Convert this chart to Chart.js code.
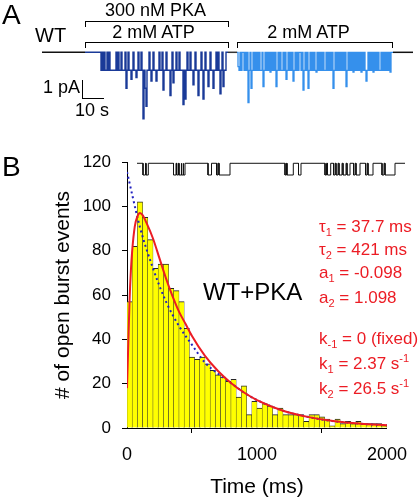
<!DOCTYPE html>
<html>
<head>
<meta charset="utf-8">
<script src="https://cdn.jsdelivr.net/npm/chart.js@4.4.0/dist/chart.umd.min.js"></script>
<style>
  body { margin: 0; background: #fff; width: 418px; height: 500px; overflow: hidden; position: relative;
         font-family: "Liberation Sans", Arial, sans-serif; }
  canvas { position: absolute; }
  .lbl { position: absolute; white-space: nowrap; line-height: 1; }
  .lbl sub, .lbl sup { font-size: 0.65em; line-height: 0; }
  .chave { position: absolute; border: 1px solid #000; border-bottom: none; }
  .escala { position: absolute; border-left: 1px solid #000; border-bottom: 1px solid #000; }
</style>
</head>
<body>
<canvas id="graficoTraco" width="371" height="80" style="left:42px;top:45px"></canvas>
<canvas id="graficoHist" width="418" height="370" style="left:0;top:130px"></canvas>
<canvas id="graficoInset" width="270" height="18" style="left:137px;top:160px"></canvas>
<script>
// --- histograma (B) ---
const larguraBin = 40; // ms
const contagens = [57, 82, 102, 95, 85, 72, 74, 74, 63, 62,
                   57, 45, 32, 31, 32, 29, 26, 24, 23, 21,
                   22, 14, 19, 6, 12, 9, 11, 10, 6, 9,
                   6, 6, 6, 6, 3, 6, 6, 5, 4, 1,
                   4, 2, 3, 2, 3, 2, 2, 2, 2, 1];
const tempoVermelho = [0, 10, 20, 30, 40, 60, 80, 100, 120, 150, 200, 250, 300, 350, 400, 450, 500,
                       600, 700, 800, 900, 1000, 1200, 1400, 1600, 1800, 2000];
const ajusteVermelho = [18, 38, 58, 71, 80, 91, 95.5, 97, 96, 92.5, 85.5, 76.5, 67.5, 59.5, 52.5, 47, 41.5,
                        32.5, 25.7, 20.3, 16, 12.6, 7.8, 4.9, 3, 1.9, 1.2];
const tempoAzul = [0, 100, 200, 300, 400, 500, 600, 700, 800, 900, 1000, 1200, 1400, 1600, 1800, 2000];
const ajusteAzul = [115.5, 90.5, 72, 57, 46, 37.5, 29.5, 24.5, 20.3, 16, 12.6, 7.8, 4.9, 3, 1.9, 1.2];
const ticksX = [0, 1000, 2000];

// --- traco do inset (B), ms ---
const insetAbre  = [60, 90, 365, 397, 420, 447, 465, 710, 797, 820, 1480, 1500, 1615, 1880, 1905,
                    1965, 1990, 2020, 2060, 2100, 2165, 2190, 2285, 2310, 2450, 2480];
const insetFecha = [85, 113, 390, 415, 440, 460, 480, 745, 810, 930, 1495, 1563, 1640, 1895, 1937,
                    1980, 2010, 2050, 2090, 2130, 2180, 2230, 2300, 2360, 2470, 2580];

// --- traco A: corrente (pA, abertura = valor positivo), uma amostra a cada 0.5 s ---
const inicioPKA = 21.5, inicioATP = 97.5, fimTraco = 185.5, passo = 0.5;
const tracoPKA = [0,0,0,0,0,0,0,0,0,0,0,0,0,0,0, 0,1,0, 1,0,1,1,0,1,0,1,1, 1,1,1,1,0,1,
  0,1,1,0,1,1,1,0, 2, 1,0,1,1, 1.5, 1,0,1,1, 1.4, 1,0,1,1,0,1, 3.7, 1,2, 3, 1,1,0,1, 1.6,
  1,0,1,1, 1.6, 1,1,0,1,1,0, 2.1, 1,1,0,1,1,1, 2.4, 1,0, 1.7, 1,1,0,1,1,0,1,1,1, 2.9, 1, 2.6,
  1,0,1,1,0,1,1, 1.8, 1,0,1,1, 2.4, 1,1,0,1, 2.6, 1,0,1,1, 1.9, 1,0,1,1, 2, 1,1,0,1,0,1, 2.3,
  1,0, 1.9, 1,1,0,0];
const tracoATP = [0, 0.8, 1,0,1,0,0,1,0,1,0, 2.8, 1,0, 2, 1,0,1,0, 1, 0,1,0,1,1,0, 1.9, 1,0,1,0,1,0,
  1.1, 0,1,0,1,0, 1.9, 1,0,1,0,1,1,0,1,0, 1.5, 1,0,1,0,1,0, 1.6, 1,0,1,0,1,0,0,1,0, 2.1, 1,0,1,0,
  2, 1,0,1,0,1,0,1, 1.1, 0,1,0,1,0,1,0,1, 1, 0,1,0,1,0,1,0, 2, 1,0,1,0,1,0, 1, 0,1,0,1,0, 1.9,
  1,0,1,0,1,0, 1.1, 0,1,0,1,0,1,0, 1.1, 0,1,0,1, 1.6, 1,0,1,0,1,0, 1.1, 0,1,0,1,0,1, 1, 0,1,0,1,0,
  1, 0,1,0, 1.1, 0,0];

const fonte = "'Liberation Sans', Arial, sans-serif";
const vermelho = '#ec1c24';

function amostras(lista, t0) {
  const pts = lista.map((v, i) => ({ x: t0 + i * passo, y: -v }));
  pts.push({ x: t0 + lista.length * passo, y: 0 });
  return pts;
}

function semEixos(min, max, ymin, ymax) {
  return {
    x: { type: 'linear', display: false, min: min, max: max },
    y: { type: 'linear', display: false, min: ymin, max: ymax }
  };
}

const opcoesBase = {
  responsive: false,
  animation: false,
  events: [],
  layout: { padding: 0 },
  plugins: { legend: { display: false }, tooltip: { enabled: false } },
  elements: { point: { radius: 0 } }
};

// painel A
const fimPKA = inicioPKA + tracoPKA.length * passo;
const fimATP = inicioATP + tracoATP.length * passo;
new Chart(document.getElementById('graficoTraco'), {
  type: 'line',
  data: {
    datasets: [
      { data: [{ x: 0, y: 0 }, { x: inicioPKA, y: 0 }], borderColor: '#111', borderWidth: 1.5 },
      { data: amostras(tracoPKA, inicioPKA), borderColor: '#1a3a98', borderWidth: 1.4, stepped: true },
      { data: [{ x: fimPKA, y: 0 }, { x: inicioATP, y: 0 }], borderColor: '#333', borderWidth: 1.5 },
      { data: amostras(tracoATP, inicioATP), borderColor: '#3590ec', borderWidth: 1.3, stepped: true },
      { data: [{ x: fimATP, y: 0 }, { x: fimTraco, y: 0 }], borderColor: '#111', borderWidth: 1.5 }
    ]
  },
  options: { ...opcoesBase, scales: semEixos(0, fimTraco, -4.04, 0.406) }
});

// inset de B
const pontosInset = [{ x: 0, y: 0 }];
insetAbre.forEach((a, i) => {
  pontosInset.push({ x: a, y: 0 }, { x: a, y: -1 }, { x: insetFecha[i], y: -1 }, { x: insetFecha[i], y: 0 });
});
pontosInset.push({ x: 2680, y: 0 });
new Chart(document.getElementById('graficoInset'), {
  type: 'line',
  data: { datasets: [{ data: pontosInset, borderColor: '#111', borderWidth: 1 }] },
  options: { ...opcoesBase, scales: semEixos(0, 2700, -1.256, 0.28) }
});

// histograma B
new Chart(document.getElementById('graficoHist'), {
  type: 'bar',
  data: {
    datasets: [
      {
        type: 'line',
        data: tempoVermelho.map((t, i) => ({ x: t, y: ajusteVermelho[i] })),
        borderColor: vermelho, borderWidth: 2, pointRadius: 0,
        cubicInterpolationMode: 'monotone', fill: false, order: 1
      },
      {
        type: 'line',
        data: tempoAzul.map((t, i) => ({ x: t, y: ajusteAzul[i] })),
        borderColor: '#2020c0', borderWidth: 2, borderDash: [2, 3], pointRadius: 0,
        cubicInterpolationMode: 'monotone', fill: false, order: 2
      },
      {
        type: 'bar',
        data: contagens.map((c, i) => ({ x: i * larguraBin + larguraBin / 2, y: c })),
        backgroundColor: '#ffff00',
        borderColor: '#262626',
        borderWidth: { top: 1, left: 0.5, right: 0.5, bottom: 0 },
        borderSkipped: false,
        barPercentage: 1, categoryPercentage: 1, grouped: false, order: 3
      }
    ]
  },
  options: {
    ...opcoesBase,
    layout: { padding: { left: 0, right: 24, top: 32, bottom: 0 } },
    scales: {
      x: {
        type: 'linear', min: 0, max: 2000, offset: false,
        afterFit: (s) => { s.height = 72; },
        afterBuildTicks: (s) => { s.ticks = ticksX.map(v => ({ value: v })); },
        grid: { drawOnChartArea: false, drawTicks: true, tickLength: 5, color: '#000' },
        border: { display: true, color: '#000', width: 1 },
        ticks: { color: '#000', padding: 11, maxRotation: 0, font: { family: fonte, size: 18 },
                 callback: (v) => String(v) },
        title: { display: true, text: 'Time (ms)', color: '#000', font: { family: fonte, size: 21 },
                 padding: { top: 0, bottom: 0.5 } }
      },
      y: {
        type: 'linear', min: 0, max: 120,
        afterFit: (s) => { s.width = 127; },
        grid: { drawOnChartArea: false, drawTicks: true, tickLength: 5, color: '#000' },
        border: { display: true, color: '#000', width: 1 },
        ticks: { stepSize: 20, color: '#000', padding: 11, font: { family: fonte, size: 17 } },
        title: { display: true, text: '# of open burst events', color: '#000', font: { family: fonte, size: 21 },
                 padding: { top: 51, bottom: 0 } }
      }
    }
  }
});

// textos e marcas do painel A
function texto(html, x, base, tamanho, cor, alinhar) {
  const d = document.createElement('div');
  d.className = 'lbl';
  d.innerHTML = html;
  d.style.fontSize = tamanho + 'px';
  d.style.color = cor || '#000';
  d.style.left = x + 'px';
  d.style.top = (base - 0.8465 * tamanho) + 'px';
  if (alinhar === 'center') d.style.transform = 'translateX(-50%)';
  document.body.appendChild(d);
}

function caixa(classe, x, y, w, h) {
  const d = document.createElement('div');
  d.className = classe;
  d.style.left = x + 'px';
  d.style.top = y + 'px';
  d.style.width = w + 'px';
  d.style.height = h + 'px';
  document.body.appendChild(d);
}

caixa('chave', 85, 20.5, 142, 5);
caixa('chave', 85, 41.5, 142, 5);
caixa('chave', 237, 41.5, 154, 5);
caixa('escala', 82, 80, 21, 18);

texto('A', 2, 25, 28);
texto('WT', 35, 41.5, 20);
texto('300 nM PKA', 155.5, 16.5, 18, '#000', 'center');
texto('2 mM ATP', 153.5, 38, 18, '#000', 'center');
texto('2 mM ATP', 308.5, 38, 18, '#000', 'center');
texto('1 pA', 43, 93.5, 18);
texto('10 s', 75, 116.5, 18);

texto('B', 2, 176.5, 28);
texto('WT+PKA', 203, 300, 24);

texto('&tau;<sub>1</sub> = 37.7 ms', 319, 232, 17, vermelho);
texto('&tau;<sub>2</sub> = 421 ms', 319, 255, 17, vermelho);
texto('a<sub>1</sub> = -0.098', 319, 278.5, 17, vermelho);
texto('a<sub>2</sub> = 1.098', 319, 303, 17, vermelho);
texto('k<sub>-1</sub> = 0 (fixed)', 319, 344.5, 17, vermelho);
texto('k<sub>1</sub> = 2.37 s<sup>-1</sup>', 319, 369, 17, vermelho);
texto('k<sub>2</sub> = 26.5 s<sup>-1</sup>', 319, 394.5, 17, vermelho);
</script>
</body>
</html>
